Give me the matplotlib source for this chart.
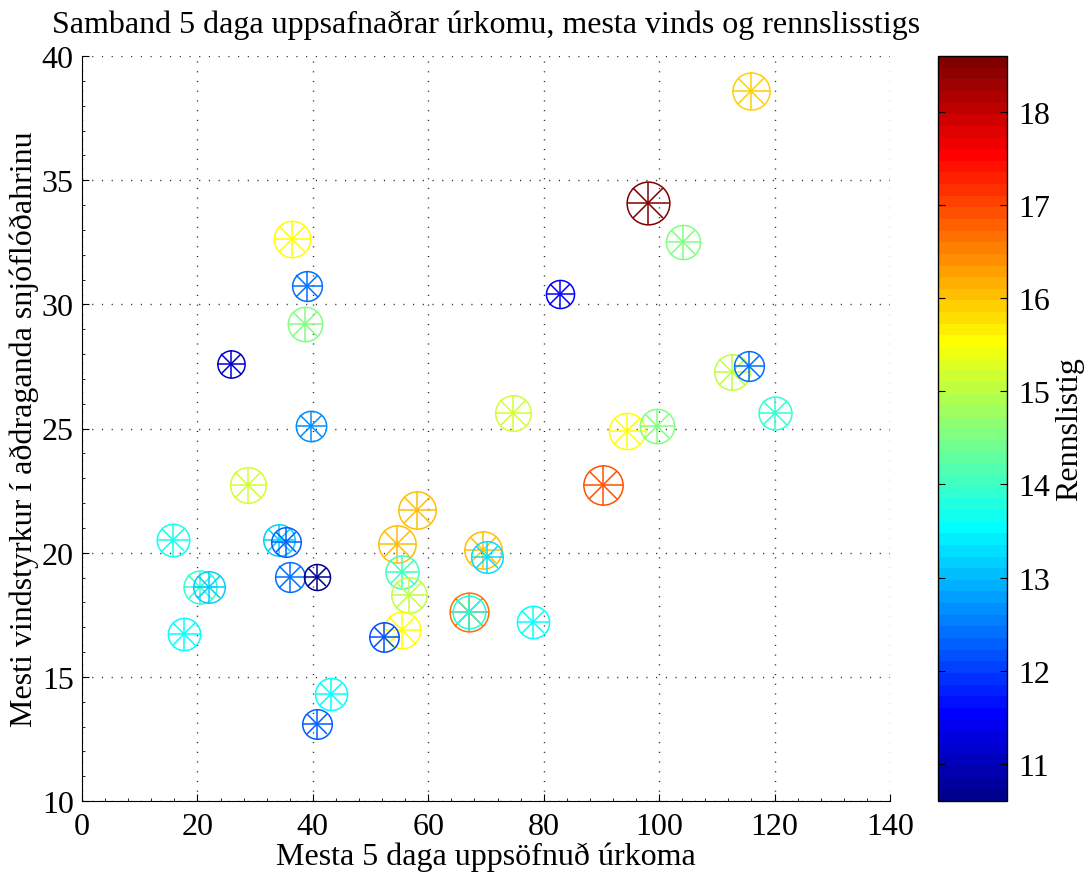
import matplotlib
matplotlib.use('Agg')
import matplotlib.pyplot as plt
import numpy as np
from matplotlib.colors import Normalize, ListedColormap
from matplotlib.cm import ScalarMappable
from matplotlib.ticker import MultipleLocator

# Mesta 5 daga uppsöfnuð úrkoma
urkoma = [115.9, 98.0, 104.1, 36.4, 39.0, 82.9, 38.7, 25.9, 112.7, 115.6,
          120.1, 74.7, 94.4, 99.6, 39.6, 28.7, 90.2, 58.0, 15.8, 34.2,
          35.3, 54.5, 69.4, 70.1, 55.5, 20.45, 22.06, 36.0, 40.7, 56.6,
          67.0, 67.0, 78.1, 55.5, 52.3, 17.67, 43.15, 40.8]
# Mesti vindstyrkur
vindur = [38.6, 34.07, 32.53, 32.62, 30.73, 30.42, 29.21, 27.6, 27.27, 27.53,
          25.61, 25.61, 24.91, 25.11, 25.1, 22.73, 22.71, 21.72, 20.51, 20.5,
          20.42, 20.36, 20.11, 19.81, 19.23, 18.63, 18.63, 19.01, 19.01, 18.31,
          17.6, 17.6, 17.2, 16.9, 16.62, 16.71, 14.31, 13.09]
# Rennslistig
rennslistig = [15.9, 18.6, 14.5, 15.6, 12.4, 11.6, 14.6, 11.2, 15.1, 12.4,
               13.9, 15.2, 15.5, 14.6, 12.7, 15.2, 16.95, 16.0, 13.7, 13.2,
               12.3, 16.0, 16.0, 13.3, 14.0, 13.9, 13.2, 12.4, 10.6, 15.1,
               16.7, 13.8, 13.6, 15.6, 12.2, 13.6, 13.5, 12.3]

xticks = [0, 20, 40, 60, 80, 100, 120, 140]
yticks = [10, 15, 20, 25, 30, 35, 40]
cticks = [11, 12, 13, 14, 15, 16, 17, 18]


def matlab_jet(m=64):
    n = int(np.ceil(m / 4))
    u = np.concatenate([np.arange(1, n + 1) / n, np.ones(n - 1), np.arange(n, 0, -1) / n])
    g = int(np.ceil(n / 2)) - (1 if m % 4 == 1 else 0) + np.arange(1, len(u) + 1)
    r = g + n
    b = g - n
    J = np.zeros((m, 3))
    for idx, ch in ((r, 0), (g, 1), (b, 2)):
        ok = (idx >= 1) & (idx <= m)
        J[idx[ok] - 1, ch] = u[ok]
    return ListedColormap(J)


plt.rcParams['font.family'] = ['Liberation Serif', 'DejaVu Serif']
FS = 23
W, H = 1089, 878
fig = plt.figure(figsize=(W / 100, H / 100), dpi=100)
ax = fig.add_axes([82 / W, 1 - 802 / H, 808 / W, 745 / H])
cax = fig.add_axes([938 / W, 1 - 802 / H, 69 / W, 745 / H])

cmap = matlab_jet(64)
norm = Normalize(vmin=min(rennslistig), vmax=max(rennslistig))

for x, y, v in zip(urkoma, vindur, rennslistig):
    col = cmap(norm(v))
    d = (26 + 2.09 * (v - 10.6)) * 0.72
    ax.plot(x, y, marker='o', ms=d, mfc='none', mec=col, mew=1.1, ls='none')
    ax.plot(x, y, marker='+', ms=d, mec=col, mew=1.1, ls='none')
    ax.plot(x, y, marker='x', ms=d * 0.707, mec=col, mew=1.1, ls='none')

ax.set_xlim(0, 140)
ax.set_ylim(10, 40)
ax.set_xticks(xticks)
ax.set_yticks(yticks)
ax.xaxis.set_minor_locator(MultipleLocator(4))
ax.yaxis.set_minor_locator(MultipleLocator(1))
ax.spines['top'].set_visible(False)
ax.spines['right'].set_visible(False)
ax.tick_params(direction='in', labelsize=FS, length=5, width=0.8)
ax.tick_params(axis='x', pad=8)
ax.tick_params(axis='y', pad=6)
ax.tick_params(which='minor', direction='in', length=2.5, width=0.6)
ax.grid(True, color='0.15', linestyle=(0, (0.8, 6.2)), linewidth=1.0)
ax.set_axisbelow(True)

ax.set_title('Samband 5 daga uppsafnaðrar úrkomu, mesta vinds og rennslisstigs',
             fontsize=FS, pad=17)
ax.set_xlabel('Mesta 5 daga uppsöfnuð úrkoma', fontsize=FS, labelpad=0)
ax.set_ylabel('Mesti vindstyrkur í aðdraganda snjóflóðahrinu', fontsize=FS, labelpad=2)

cb = fig.colorbar(ScalarMappable(norm=norm, cmap=cmap), cax=cax)
cb.set_ticks(cticks)
cb.ax.tick_params(direction='in', left=True, right=True, labelsize=FS, length=5, width=0.8, pad=8)
cb.outline.set_linewidth(1.0)
cb.set_label('Rennslistig', fontsize=FS, labelpad=4)

fig.savefig('out.png', dpi=100)
